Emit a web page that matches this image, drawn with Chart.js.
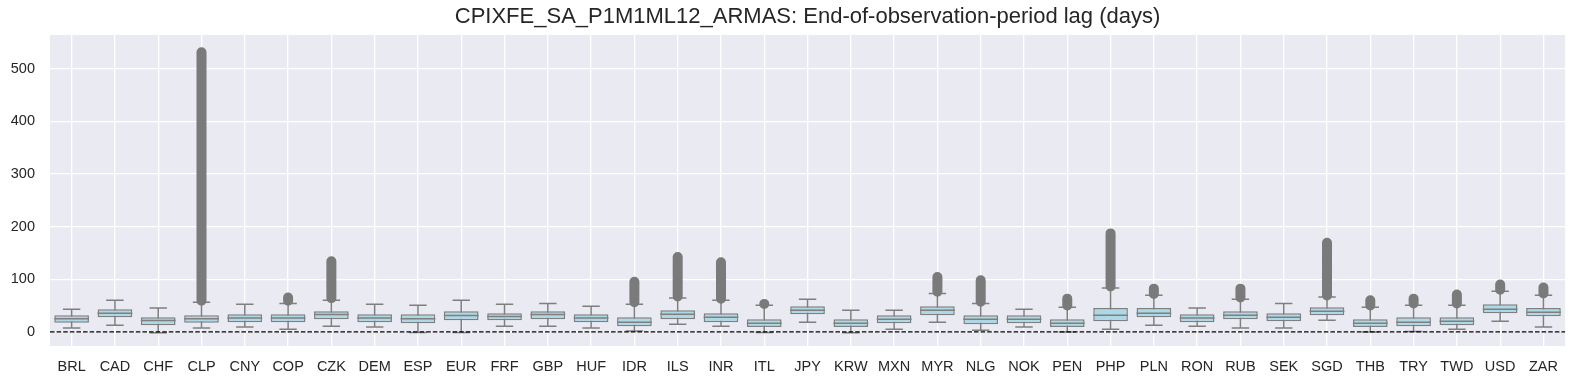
<!DOCTYPE html>
<html>
<head>
<meta charset="utf-8">
<script src="https://cdn.jsdelivr.net/npm/chart.js@4.4.1/dist/chart.umd.min.js"></script>
<style>
  html, body { margin: 0; padding: 0; background: #fff; }
  #wrap { width: 1584px; height: 384px; }
</style>
</head>
<body>
<div id="wrap"><canvas id="lagChart" width="1584" height="384"></canvas></div>
<script>
// currencies on the x axis
const currencies = ['BRL','CAD','CHF','CLP','CNY','COP','CZK','DEM','ESP','EUR','FRF','GBP','HUF','IDR','ILS','INR','ITL','JPY','KRW','MXN','MYR','NLG','NOK','PEN','PHP','PLN','RON','RUB','SEK','SGD','THB','TRY','TWD','USD','ZAR'];

// box plot stats (days)
const whiskerLow  = [7, 12.6, -2, 7, 9, 5, 10.7, 9, -1.3, -1.3, 10.7, 10.7, 7, 1.3, 14.5, 10.7, -1.3, 18.3, -2, 5, 18.3, 3, 9, -0.6, 5, 12.6, 10.7, 7, 7, 22, -0.6, 0.6, 5, 20, 9];
const q1          = [17, 27.8, 12.6, 17, 18.3, 18.3, 24, 18.3, 16.4, 22, 22, 24, 18.3, 10.7, 24, 18.3, 9, 33.5, 9, 16.4, 31.6, 14.5, 16.4, 9, 20, 27.8, 18.3, 24, 20, 31.6, 9, 10.7, 12.6, 35.4, 29.7];
const medians     = [24.7, 35.4, 21.5, 24.7, 26, 26, 33, 26, 24.7, 31, 29, 33, 26, 18.3, 33.5, 27.8, 16.4, 41, 16.4, 24, 41, 24, 24, 16.4, 31.6, 35.4, 26, 31.6, 27.8, 39, 16.4, 18.3, 20, 43, 37];
const q3          = [31.6, 43, 27.8, 31.6, 33.5, 33.5, 39, 33.5, 33.5, 39, 35.4, 39, 33.5, 27.8, 41, 35.4, 24, 48.7, 24, 31.6, 48.7, 31.6, 31.6, 24, 45, 45, 33.5, 39, 35.4, 46.8, 24, 27.8, 27.8, 52.5, 45];
const whiskerHigh = [43, 60, 45, 56, 52.5, 54, 60, 52.5, 50.6, 60, 52.5, 54, 48.7, 52.5, 64, 60, 50.6, 62, 41, 41, 73, 54, 43, 46.8, 83, 69.5, 45, 62, 54, 66, 46.8, 50.6, 50.6, 77, 69.5];

// outlier ranges (lowest and highest flier), null where there are none
const outlierLow  = [null, null, null, 59, null, 59, 64, null, null, null, null, null, null, 56, 67, 63, 53, null, null, null, 76, 57, null, 50, 86, 72, null, 65, null, 69, 50, 54, 54, 80, 73];
const outlierHigh = [null, null, null, 531, null, 65, 134, null, null, null, null, null, null, 95, 142, 132, 53, null, null, null, 104, 98, null, 63, 187, 82, null, 82, null, 169, 60, 63, 71, 90, 84];

const yTicks = [0, 100, 200, 300, 400, 500];

const GRAY = '#7f7f7f';
const FONT = "'Liberation Sans', Arial, sans-serif";

// vertical segments, one per currency, broken with nulls
function segments(lo, hi) {
  const pts = [];
  currencies.forEach((c, i) => {
    if (lo[i] == null) return;
    pts.push({ x: c, y: lo[i] }, { x: c, y: hi[i] }, { x: c, y: null });
  });
  return pts;
}

const plotBg = {
  id: 'plotBg',
  beforeDraw(chart) {
    const { ctx, chartArea: a } = chart;
    ctx.save();
    ctx.fillStyle = '#eaeaf2';
    ctx.fillRect(a.left, a.top, a.right - a.left, a.bottom - a.top);
    ctx.restore();
  }
};

// dashed line at zero
const zeroLine = {
  id: 'zeroLine',
  afterDatasetsDraw(chart) {
    const { ctx, chartArea: a, scales } = chart;
    const y = scales.y.getPixelForValue(0);
    ctx.save();
    ctx.strokeStyle = '#000';
    ctx.lineWidth = 1.3;
    ctx.setLineDash([4.6, 2]);
    ctx.beginPath();
    ctx.moveTo(a.left, y);
    ctx.lineTo(a.right, y);
    ctx.stroke();
    ctx.restore();
  }
};

new Chart(document.getElementById('lagChart'), {
  type: 'bar',
  data: {
    labels: currencies,
    datasets: [
      {
        type: 'line',
        data: segments(whiskerLow, whiskerHigh),
        borderColor: GRAY,
        borderWidth: 1.5,
        pointRadius: 0,
        spanGaps: false,
        order: 6
      },
      {
        type: 'bar',
        data: q1.map((v, i) => [v, q3[i]]),
        backgroundColor: '#add8e6',
        borderColor: GRAY,
        borderWidth: 1.5,
        borderSkipped: false,
        barPercentage: 0.8,
        categoryPercentage: 1,
        grouped: false,
        order: 5
      },
      {
        type: 'line',
        data: whiskerLow,
        showLine: false,
        pointStyle: 'line',
        pointRadius: 8.7,
        pointBorderColor: GRAY,
        pointBorderWidth: 1.5,
        order: 4
      },
      {
        type: 'line',
        data: whiskerHigh,
        showLine: false,
        pointStyle: 'line',
        pointRadius: 8.7,
        pointBorderColor: GRAY,
        pointBorderWidth: 1.5,
        order: 4
      },
      {
        type: 'line',
        data: segments(outlierLow, outlierHigh),
        borderColor: '#7a7a7a',
        borderWidth: 10,
        borderCapStyle: 'round',
        pointRadius: 0,
        spanGaps: false,
        order: 3
      },
      {
        type: 'line',
        data: medians,
        showLine: false,
        pointStyle: 'line',
        pointRadius: 17.4,
        pointBorderColor: GRAY,
        pointBorderWidth: 1.5,
        order: 1
      }
    ]
  },
  options: {
    responsive: false,
    animation: false,
    devicePixelRatio: 1,
    layout: { padding: { left: 0, right: 11, top: 0, bottom: 0 } },
    plugins: {
      legend: { display: false },
      tooltip: { enabled: false },
      title: {
        display: true,
        fullSize: false,
        text: 'CPIXFE_SA_P1M1ML12_ARMAS: End-of-observation-period lag (days)',
        color: '#262626',
        font: { family: FONT, size: 22, weight: 'normal' },
        padding: { top: 4, bottom: 4.6 }
      }
    },
    scales: {
      x: {
        offset: true,
        grid: { offset: false, color: '#ffffff', lineWidth: 1.3, drawTicks: false },
        border: { display: false },
        ticks: { color: '#262626', font: { family: FONT, size: 14.5 }, padding: 12, maxRotation: 0, autoSkip: false },
        afterFit: s => { s.height = 38; }
      },
      y: {
        min: -27,
        max: 564,
        afterBuildTicks: s => { s.ticks = yTicks.map(v => ({ value: v })); },
        grid: { color: '#ffffff', lineWidth: 1.3, drawTicks: false },
        border: { display: false },
        ticks: { color: '#262626', font: { family: FONT, size: 14.5 }, padding: 15 },
        afterFit: s => { s.width = 50; }
      }
    }
  },
  plugins: [plotBg, zeroLine]
});
</script>
</body>
</html>
